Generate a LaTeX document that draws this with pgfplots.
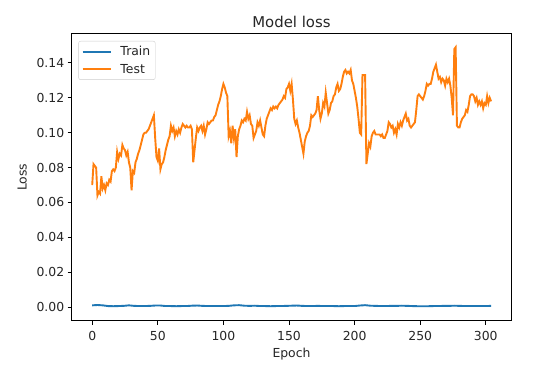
\documentclass[border=0pt]{standalone}
\usepackage{fontspec}
\setmainfont{DejaVu Sans}
\usepackage{pgfplots}
\pgfplotsset{compat=1.18}
\definecolor{mplblue}{HTML}{1F77B4}
\definecolor{mplorange}{HTML}{FF7F0E}
\begin{document}
\begin{tikzpicture}
\begin{axis}[
  name=ax,
  scale only axis,
  width=439pt, height=287pt,
  xmin=-15.4, xmax=319.2,
  ymin=-0.0078, ymax=0.1568,
  xtick={0,50,100,150,200,250,300},
  ytick={0,0.02,0.04,0.06,0.08,0.10,0.12,0.14},
  scaled y ticks=false,
  yticklabel style={/pgf/number format/.cd, fixed, fixed zerofill, precision=2},
  xticklabel style={yshift=-3pt},
  /pgf/number format/assume math mode=true,
  tick label style={font=\fontsize{12.4}{14}\selectfont, color=black!85},
  tick align=outside,
  tickwidth=4.3pt,
  xtick pos=bottom, ytick pos=left,
  axis line style={line width=1pt},
  every tick/.style={black, line width=1pt},
  title={Model loss},
  title style={font=\fontsize{14.9}{17}\selectfont, yshift=-4pt, color=black!85},
  xlabel={Epoch},
  ylabel={Loss},
  label style={font=\fontsize{12.4}{14}\selectfont, color=black!85},
  xlabel style={yshift=0pt},
  ylabel style={yshift=3pt},
  legend style={at={(0,1)}, anchor=north west, xshift=6.4pt, yshift=-7.3pt,
    draw=black!20, rounded corners=2pt, font=\fontsize{12.4}{14}\selectfont,
    inner xsep=3pt, inner ysep=3pt, row sep=3pt, text=black!85},
  legend cell align=left,
  legend image code/.code={\draw[#1] (0pt,0pt) -- (28pt,0pt); \path (35pt,0pt);},
]
\addplot[mplblue, line width=1.9pt] coordinates {
(0,0.0010)(4,0.0012)(8,0.0010)(12,0.0006)(16,0.0005)(20,0.0006)(24,0.0007)(28,0.0010)(32,0.0007)(36,0.0006)(40,0.0006)(44,0.0007)(48,0.0009)(52,0.0009)(56,0.0006)(60,0.0006)(64,0.0005)(68,0.0006)(72,0.0006)(76,0.0008)(80,0.0009)(84,0.0007)(88,0.0006)(92,0.0006)(96,0.0006)(100,0.0006)(104,0.0007)(108,0.0010)(112,0.0011)(116,0.0008)(120,0.0007)(124,0.0008)(128,0.0006)(132,0.0006)(136,0.0005)(140,0.0006)(144,0.0006)(148,0.0007)(152,0.0008)(156,0.0009)(160,0.0007)(164,0.0006)(168,0.0006)(172,0.0007)(176,0.0006)(180,0.0006)(184,0.0006)(188,0.0005)(192,0.0006)(196,0.0006)(200,0.0006)(204,0.0009)(208,0.0011)(212,0.0008)(216,0.0007)(220,0.0006)(224,0.0006)(228,0.0007)(232,0.0007)(236,0.0008)(240,0.0007)(244,0.0006)(248,0.0005)(252,0.0005)(256,0.0005)(260,0.0006)(264,0.0006)(268,0.0007)(272,0.0007)(276,0.0008)(280,0.0007)(284,0.0006)(288,0.0006)(292,0.0006)(296,0.0006)(300,0.0006)(304,0.0007)
};
\addlegendentry{Train}
\addplot[mplorange, line width=1.9pt] coordinates {
(0,0.070)(1,0.082)(2,0.081)(3,0.080)(4,0.064)(5,0.066)(6,0.065)(7,0.075)(8,0.068)(9,0.070)
(10,0.067)(11,0.071)(12,0.070)(13,0.073)(14,0.072)(15,0.078)(16,0.079)(17,0.078)(18,0.080)(19,0.089)
(20,0.085)(21,0.088)(22,0.087)(23,0.093)(24,0.091)(25,0.090)(26,0.087)(27,0.089)(28,0.083)(29,0.080)
(30,0.067)(31,0.078)(32,0.077)(33,0.083)(34,0.085)(35,0.088)(36,0.090)(37,0.093)(38,0.096)(39,0.099)
(40,0.100)(41,0.100)(42,0.101)(43,0.102)(44,0.104)(45,0.106)(46,0.108)(47,0.110)(48,0.097)(49,0.086)
(50,0.084)(51,0.091)(52,0.079)(53,0.082)(54,0.083)(55,0.086)(56,0.090)(57,0.093)(58,0.096)(59,0.098)
(60,0.104)(61,0.101)(62,0.103)(63,0.098)(64,0.101)(65,0.099)(66,0.102)(67,0.100)(68,0.103)(69,0.105)
(70,0.104)(71,0.103)(72,0.104)(73,0.103)(74,0.103)(75,0.104)(76,0.102)(77,0.083)(78,0.090)(79,0.097)
(80,0.103)(81,0.101)(82,0.103)(83,0.104)(84,0.101)(85,0.104)(86,0.099)(87,0.102)(88,0.106)(89,0.105)
(90,0.106)(91,0.107)(92,0.107)(93,0.109)(94,0.110)(95,0.113)(96,0.116)(97,0.118)(98,0.121)(99,0.125)
(100,0.128)(101,0.126)(102,0.123)(103,0.121)(104,0.098)(105,0.101)(106,0.094)(107,0.104)(108,0.097)(109,0.102)
(110,0.086)(111,0.098)(112,0.102)(113,0.104)(114,0.107)(115,0.106)(116,0.108)(117,0.107)(118,0.112)(119,0.108)
(120,0.110)(121,0.105)(122,0.104)(123,0.097)(124,0.099)(125,0.101)(126,0.106)(127,0.104)(128,0.107)(129,0.103)
(130,0.099)(131,0.098)(132,0.104)(133,0.108)(134,0.110)(135,0.112)(136,0.114)(137,0.113)(138,0.115)(139,0.114)
(140,0.115)(141,0.114)(142,0.116)(143,0.117)(144,0.118)(145,0.119)(146,0.121)(147,0.120)(148,0.125)(149,0.126)
(150,0.128)(151,0.124)(152,0.128)(153,0.119)(154,0.108)(155,0.105)(156,0.107)(157,0.103)(158,0.100)(159,0.096)
(160,0.092)(161,0.088)(162,0.095)(163,0.098)(164,0.100)(165,0.101)(166,0.104)(167,0.110)(168,0.109)(169,0.110)
(170,0.111)(171,0.113)(172,0.121)(173,0.113)(174,0.108)(175,0.111)(176,0.117)(177,0.115)(178,0.123)(179,0.117)
(180,0.111)(181,0.113)(182,0.117)(183,0.118)(184,0.121)(185,0.122)(186,0.126)(187,0.128)(188,0.124)(189,0.125)
(190,0.128)(191,0.132)(192,0.135)(193,0.136)(194,0.134)(195,0.135)(196,0.134)(197,0.136)(198,0.130)(199,0.128)
(200,0.124)(201,0.120)(202,0.115)(203,0.108)(204,0.100)(205,0.099)(206,0.133)(207,0.133)(208,0.133)(209,0.082)
(210,0.088)(211,0.094)(212,0.092)(213,0.098)(214,0.100)(215,0.101)(216,0.099)(217,0.099)(218,0.099)(219,0.099)
(220,0.098)(221,0.099)(222,0.097)(223,0.097)(224,0.099)(225,0.101)(226,0.106)(227,0.105)(228,0.103)(229,0.104)
(230,0.100)(231,0.102)(232,0.099)(233,0.105)(234,0.103)(235,0.106)(236,0.104)(237,0.107)(238,0.109)(239,0.111)
(240,0.107)(241,0.108)(242,0.104)(243,0.103)(244,0.104)(245,0.105)(246,0.106)(247,0.113)(248,0.121)(249,0.122)
(250,0.121)(251,0.120)(252,0.119)(253,0.121)(254,0.124)(255,0.128)(256,0.127)(257,0.128)(258,0.128)(259,0.131)
(260,0.135)(261,0.137)(262,0.139)(263,0.135)(264,0.131)(265,0.132)(266,0.129)(267,0.131)(268,0.130)(269,0.127)
(270,0.131)(271,0.129)(272,0.131)(273,0.127)(274,0.120)(275,0.110)(276,0.148)(277,0.149)(278,0.104)(279,0.103)
(280,0.103)(281,0.106)(282,0.108)(283,0.109)(284,0.110)(285,0.113)(286,0.112)(287,0.116)(288,0.121)(289,0.122)
(290,0.122)(291,0.121)(292,0.118)(293,0.120)(294,0.116)(295,0.118)(296,0.116)(297,0.118)(298,0.114)(299,0.117)
(300,0.116)(301,0.121)(302,0.117)(303,0.120)(304,0.118)
};
\addlegendentry{Test}
\end{axis}
\path ([xshift=-72pt,yshift=-53.3pt]ax.south west) rectangle ([xshift=36pt,yshift=33.7pt]ax.north east);
\end{tikzpicture}
\end{document}
